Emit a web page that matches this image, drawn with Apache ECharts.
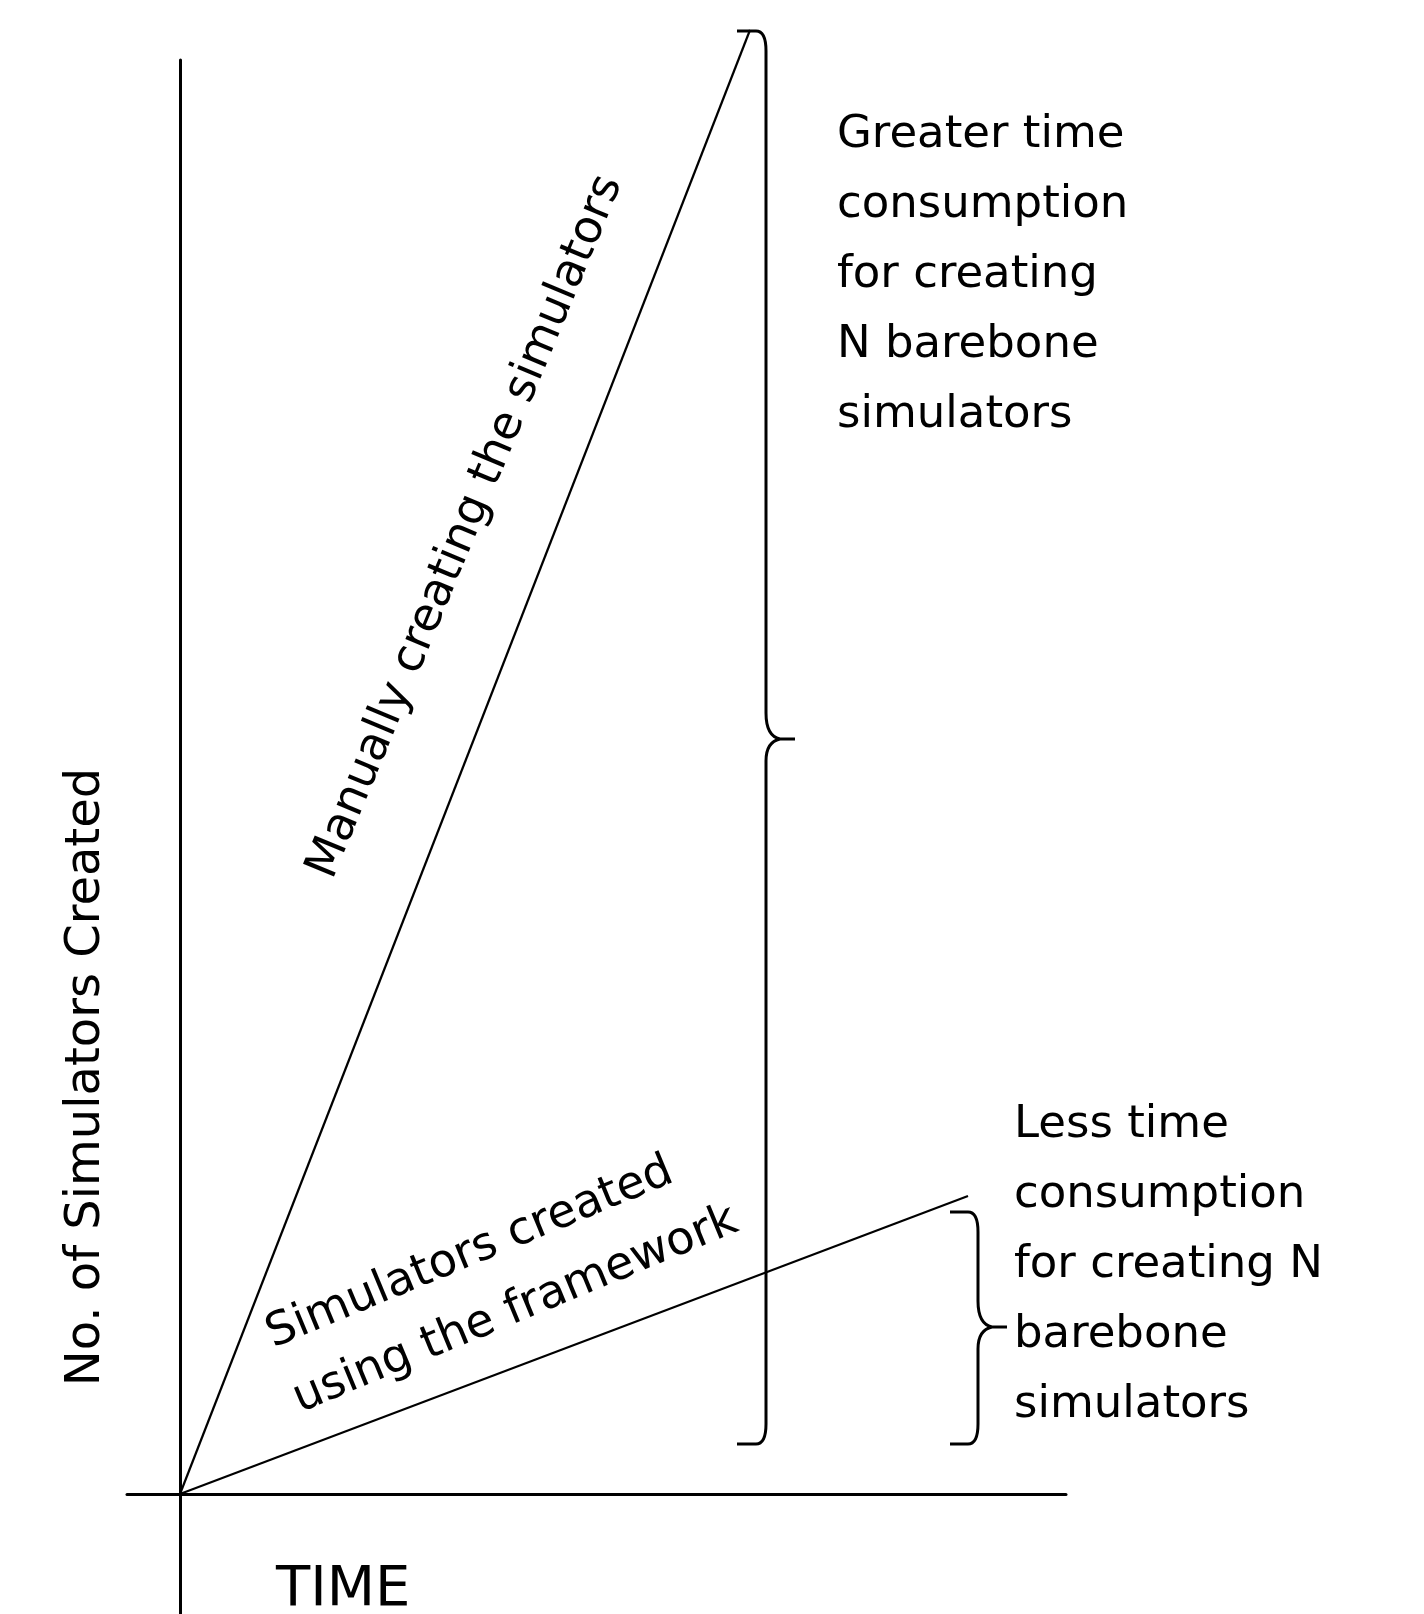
<!DOCTYPE html>
<html>
<head>
<meta charset="utf-8">
<script src="https://cdn.jsdelivr.net/npm/echarts@6/dist/echarts.min.js"></script>
<style>
  html, body { margin: 0; padding: 0; background: #ffffff; }
  #chart { width: 1424px; height: 1614px; }
</style>
</head>
<body>
<div id="chart"></div>
<script>
// ---- Data (conceptual units: time vs. number of simulators) ----
const manualLine = [[0, 0], [5.70, 14.64]];
const frameworkLine = [[0, 0], [7.88, 2.98]];
// brace: [x of spine, y top, y bottom, y of tip, x of tip, x of end hooks]
const braceBig = [5.86, 14.63, 0.50, 7.55, 6.15, 5.57];
const braceSmall = [7.98, 2.82, 0.50, 1.67, 8.27, 7.70];
const xRange = [-0.53, 8.86];
const yRange = [-1.2, 14.36];

const textGreater = 'Greater time\nconsumption\nfor creating\nN barebone\nsimulators';
const textLess = 'Less time\nconsumption\nfor creating N\nbarebone\nsimulators';
const textManual = 'Manually creating the simulators';
const textFramework = 'Simulators created\nusing the framework';
const textYLabel = 'No. of Simulators Created';
const textXLabel = 'TIME';

// ---- Layout for annotations (anchor in data units) ----
const FONT = '"DejaVu Sans", "Noto Sans", sans-serif';
const annotations = [
  { at: [6.57, 13.94], text: textGreater, rot: 0, align: 'left', va: 'top', lh: 70, size: 45 },
  { at: [8.34, 4.04], text: textLess, rot: 0, align: 'left', va: 'top', lh: 70, size: 45 },
  { at: [2.86, 9.67], text: textManual, rot: 67.5, align: 'center', va: 'middle', lh: 50, size: 46 },
  { at: [1.02, 1.25], text: textFramework, rot: 22.5, align: 'left', va: 'middle', lh: 70, size: 46 },
  { at: [-0.93, 4.17], text: textYLabel, rot: 90, align: 'center', va: 'middle', lh: 50, size: 48 },
  { at: [0.96, -0.96], text: textXLabel, rot: 0, align: 'left', va: 'middle', lh: 60, size: 56 }
];

const chart = echarts.init(document.getElementById('chart'), null, { renderer: 'canvas' });

function braceRender(params, api) {
  const xV = api.value(0), yT = api.value(1), yB = api.value(2), yM = api.value(3), xTip = api.value(4), xE = api.value(5);
  const top = api.coord([xV, yT]);
  const bot = api.coord([xV, yB]);
  const mid = api.coord([xTip, yM]);
  const end = api.coord([xE, yT]);
  const X = top[0], Yt = top[1], Yb = bot[1], Xt = mid[0], Ym = mid[1], Xe = end[0];
  const r = 20, h = 10, k = 15;
  const d = [
    'M', Xe, Yt, 'L', X - h, Yt, 'Q', X, Yt, X, Yt + r,
    'L', X, Ym - r - 6, 'Q', X, Ym - 3, Xt - k, Ym, 'L', Xt, Ym,
    'M', Xt - k, Ym, 'Q', X, Ym + 3, X, Ym + r + 2,
    'L', X, Yb - r, 'Q', X, Yb, X - h, Yb, 'L', Xe, Yb
  ].join(' ');
  return {
    type: 'path',
    shape: { pathData: d },
    style: { stroke: '#000', lineWidth: 3, fill: null, lineJoin: 'round', lineCap: 'butt' }
  };
}

function textRender(params, api) {
  const a = annotations[params.dataIndex];
  const p = api.coord([api.value(0), api.value(1)]);
  return {
    type: 'text',
    x: p[0], y: p[1],
    rotation: a.rot * Math.PI / 180,
    style: {
      text: a.text, fill: '#000',
      fontFamily: FONT, fontSize: a.size,
      align: a.align, verticalAlign: a.va, lineHeight: a.lh
    }
  };
}

chart.setOption({
  backgroundColor: '#ffffff',
  animation: false,
  grid: { left: 127, right: 358, top: 60, bottom: 0, containLabel: false },
  xAxis: {
    type: 'value', min: xRange[0], max: xRange[1],
    axisLine: { show: true, onZero: true, lineStyle: { color: '#000', width: 3 } },
    axisTick: { show: false }, axisLabel: { show: false }, splitLine: { show: false }
  },
  yAxis: {
    type: 'value', min: yRange[0], max: yRange[1] - 0.02,
    axisLine: { show: true, onZero: true, lineStyle: { color: '#000', width: 3 } },
    axisTick: { show: false }, axisLabel: { show: false }, splitLine: { show: false }
  },
  series: [
    {
      name: 'Manual', type: 'line', data: manualLine, clip: false,
      symbol: 'none', lineStyle: { color: '#000', width: 2.2 }, silent: true
    },
    {
      name: 'Framework', type: 'line', data: frameworkLine, clip: false,
      symbol: 'none', lineStyle: { color: '#000', width: 2.2 }, silent: true
    },
    {
      name: 'Braces', type: 'custom', renderItem: braceRender, clip: false, silent: true,
      data: [braceBig, braceSmall], encode: { x: 0, y: 1 }
    },
    {
      name: 'Texts', type: 'custom', renderItem: textRender, clip: false, silent: true,
      data: annotations.map(a => a.at), encode: { x: 0, y: 1 }
    }
  ]
});
</script>
</body>
</html>
